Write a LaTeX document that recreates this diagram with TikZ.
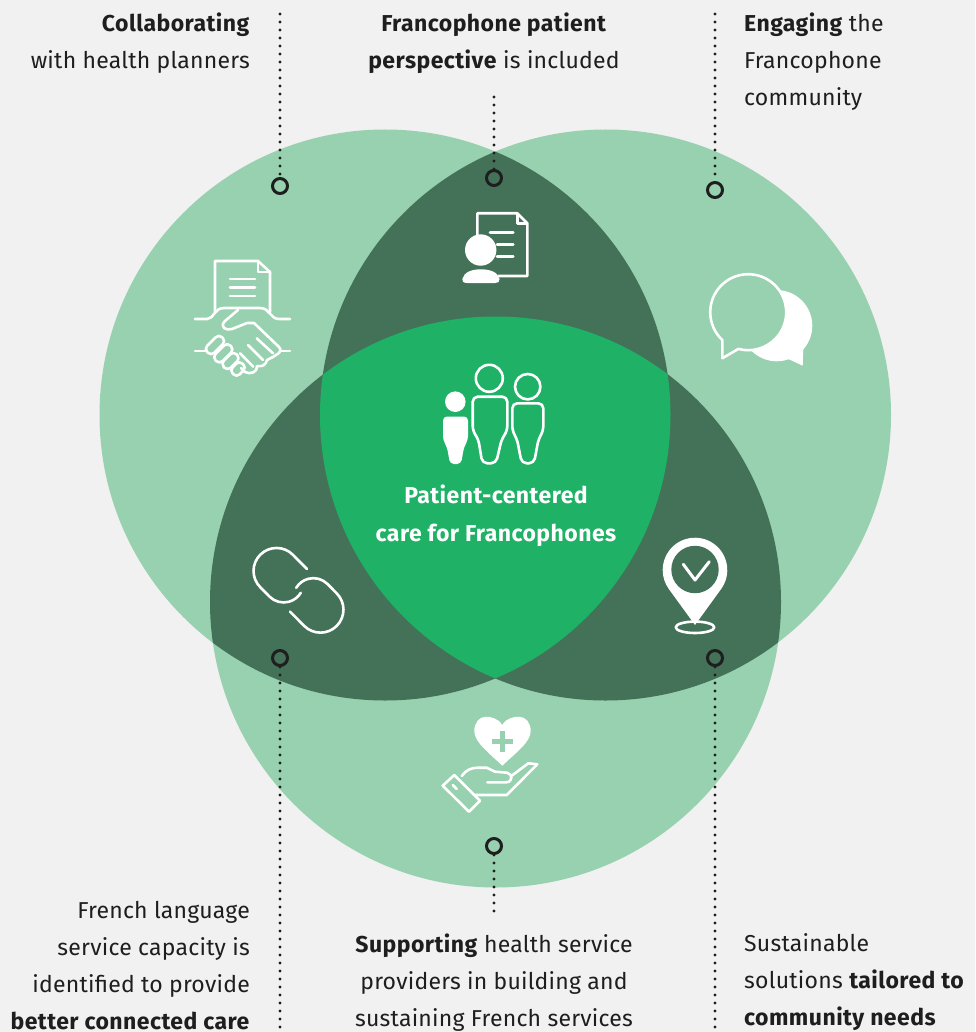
\documentclass[tikz,border=0pt]{standalone}
\usepackage{fontspec}
\setmainfont[LetterSpace=1,BoldFeatures={LetterSpace=2}]{Fira Sans}
\definecolor{pagebg}{HTML}{F1F1F1}
\definecolor{lightring}{HTML}{97D1AF}
\definecolor{darkring}{HTML}{447258}
\definecolor{midring}{HTML}{1FB166}
\definecolor{labelink}{HTML}{1E1E1E}
\tikzset{
  label text/.style={font=\fontsize{23}{37}\selectfont,text=labelink,inner sep=0pt},
  center text/.style={font=\fontsize{23}{38}\selectfont\bfseries,text=white,inner sep=0pt,align=center},
  ring/.style={circle,draw=labelink,line width=3pt,minimum size=15pt,inner sep=0pt},
  dots/.style={draw=labelink,line width=3.4pt,line cap=round,dash pattern=on 0pt off 8pt},
  icon/.style={draw=white,line width=2.6pt,line join=round,line cap=round},
}
\begin{document}
\begin{tikzpicture}[x=1pt,y=-1pt]
\useasboundingbox (0,0) rectangle (975,1032);
\fill[pagebg] (0,0) rectangle (975,1032);
\coordinate (cl) at (385,415);
\coordinate (cr) at (605.5,415);
\coordinate (cb) at (495.5,602);
\def\rr{285.5}

\fill[lightring] (cl) circle[radius=\rr];
\fill[lightring] (cr) circle[radius=\rr];
\fill[lightring] (cb) circle[radius=\rr];
\begin{scope}
  \clip (cl) circle[radius=\rr];
  \fill[darkring] (cr) circle[radius=\rr];
  \fill[darkring] (cb) circle[radius=\rr];
\end{scope}
\begin{scope}
  \clip (cr) circle[radius=\rr];
  \fill[darkring] (cb) circle[radius=\rr];
\end{scope}
\begin{scope}
  \clip (cl) circle[radius=\rr];
  \clip (cr) circle[radius=\rr];
  \fill[midring] (cb) circle[radius=\rr];
\end{scope}

% labels
\node[label text,anchor=north east,align=right] (collab) at (250,12.5) {\textbf{Collaborating}\\with health planners};
\node[label text,anchor=north,align=center] (patient) at (494,12.5) {\textbf{Francophone patient}\\\textbf{perspective} is included};
\node[label text,anchor=north west,align=left] (engage) at (744,12.5) {\textbf{Engaging} the\\Francophone\\community};
\node[label text,anchor=north east,align=right] (capacity) at (250,901.5) {French language\\service capacity is\\identified to provide\\\textbf{better connected care}};
\node[label text,anchor=north,align=center] (support) at (494,933.5) {\textbf{Supporting} health service\\providers in building and\\sustaining French services};
\node[label text,anchor=north west,align=left] (sustain) at (744,933.5) {Sustainable\\solutions \textbf{tailored to}\\\textbf{community needs}};
\node[center text] (care) at (496,516) {Patient-centered\\care for Francophones};

% rings and dotted leaders
\node[ring] (ringa) at (280,186) {};
\node[ring] (ringb) at (494,178) {};
\node[ring] (ringc) at (715,190) {};
\node[ring] (ringd) at (280,658) {};
\node[ring] (ringe) at (715,658) {};
\node[ring] (ringf) at (494,846) {};
\coordinate (enda) at (280,14);
\coordinate (endb) at (494,97);
\coordinate (endc) at (715,14);
\coordinate (endd) at (280,1032);
\coordinate (ende) at (715,1032);
\coordinate (endf) at (494,912);
\draw[dots] (enda) -- (ringa);
\draw[dots] (endb) -- (ringb);
\draw[dots] (endc) -- (ringc);
\draw[dots] (ringd) -- (endd);
\draw[dots] (ringe) -- (ende);
\draw[dots] (ringf) -- (endf);

% handshake
\draw[icon] (215,312) -- (215,261) -- (258,261) -- (270,272) -- (270,312);
\draw[icon] (258,261) -- (258,272) -- (270,272);
\draw[icon] (230,279) -- (255,279) (230,287.5) -- (255,287.5) (230,296) -- (255,296);
\draw[icon] (195,319) -- (207,319) .. controls (214,319) and (214,308) .. (224,308) -- (260,308) .. controls (270,308) and (270,319) .. (279,319) -- (290,319);
\draw[icon] (238,310) -- (225,321) .. controls (219,327) and (226,331) .. (232,329) -- (247,323) -- (254,323) -- (279,347) .. controls (282,350) and (280,353) .. (276,355) .. controls (272,358) and (270,358) .. (267,360) .. controls (266,365) and (262,367) .. (257,366) .. controls (258,372) and (250,375) .. (245,372) -- (241,368);
\draw[icon] (256.7,338.3) -- (273,353.3) (248,345) -- (263,360) (240,353.3) -- (253.3,366.7);
\draw[icon] (195,351) -- (206,351) (280,351) -- (290,351);
\foreach \px/\py/\pl in {215/345/10.5,223.3/353.3/10.5,230.5/361/9,238/369/7}
  \draw[icon,rounded corners=4.5pt,rotate around={45:(\px,\py)}] (\px-\pl,\py-5) rectangle (\px+\pl,\py+5);

% patient document
\draw[icon,line cap=butt] (477.3,235) -- (477.3,213.3) -- (517.3,213.3) -- (527.3,223.3) -- (527.3,276) -- (498,276);
\draw[icon,line cap=butt] (517.3,213.3) -- (517.3,223.3) -- (527.3,223.3);
\draw[icon] (490,232.7) -- (513.3,232.7) (497,244.3) -- (513.3,244.3) (497,256.7) -- (513.3,256.7);
\fill[white] (480.7,250) circle[radius=15.7];
\fill[white] (462.3,279) .. controls (464,272) and (472,269.3) .. (480.7,269.3) .. controls (490,269.3) and (498,272) .. (499.5,279) .. controls (500,282) and (498,283) .. (495,283) -- (467,283) .. controls (463,283) and (462,281) .. (462.3,279) -- cycle;

% speech bubbles
\fill[white] (776.7,325.7) circle[radius=35.6];
\fill[white] (803.3,348.3) -- (802.7,365.7) -- (788.3,359) -- cycle;
\draw[icon,fill=lightring,line cap=butt] (722.3,340) arc[start angle=133,end angle=465,radius=38] -- (722.3,358.3) -- cycle;

% people
\fill[white] (455.3,401.7) circle[radius=10.3];
\fill[white,rounded corners=4pt] (443,416.5) -- (468,416.5) -- (468,440) -- (464,447) -- (461,464) -- (450,464) -- (447,447) -- (443,440) -- cycle;
\draw[icon] (489.3,378.3) circle[radius=13.5];
\draw[icon,rounded corners=5pt] (472.7,396.7) -- (507.3,396.7) -- (507.3,431) -- (501.7,439) -- (496,463.3) -- (482.3,463.3) -- (478.3,439) -- (472.7,431) -- cycle;
\draw[icon] (527.7,386.7) circle[radius=12.7];
\draw[icon,rounded corners=5pt] (512.3,403.3) -- (543.3,403.3) -- (543.3,431) -- (538.5,439) -- (534,463.3) -- (521.7,463.3) -- (517,439) -- (512.3,431) -- cycle;

% chain links
\foreach \a in {0,180}
  \draw[icon,rotate around={\a:(298.5,590.3)}] (307,569) -- (292.8,554.7) arc[start angle=-45,end angle=-225,radius=23] -- (269.5,596.6) arc[start angle=135,end angle=31,radius=20];

% map pin
\fill[white] (695,625) -- (721.1,589) arc[start angle=36,end angle=-216,radius=32.3] -- cycle;
\fill[darkring] (695,569.5) circle[radius=23.7];
\draw[icon,line width=3pt] (683.3,564.3) -- (695,580) -- (709.3,561.7);
\draw[icon] (695,627.3) ellipse[x radius=19.3,y radius=5.7];

% heart in hand
\fill[white] (502.3,725) .. controls (498,718) and (490,716.7) .. (486,716.7) .. controls (479,716.7) and (474.3,723) .. (474.3,731) .. controls (474.3,742) and (488,752) .. (502.3,765.7) .. controls (516.6,752) and (530.7,742) .. (530.7,731) .. controls (530.7,723) and (526,716.7) .. (519,716.7) .. controls (514,716.7) and (506,718) .. (502.3,725) -- cycle;
\draw[lightring,line width=5pt] (491.6,741.7) -- (513,741.7) (502.3,731) -- (502.3,752.4);
\draw[icon] (454.3,775) -- (442.7,785.7) -- (469,811.7) -- (480,800.7) -- cycle;
\draw[icon] (452.7,785) -- (456.7,789);
\draw[icon] (461.7,776) .. controls (466,770) and (471,767.7) .. (478,767.7) -- (486.7,767.7) -- (495,771.7) -- (507,772.7) .. controls (513,774) and (513,782.3) .. (506,782.3) -- (487.3,782.3);
\draw[icon] (511.7,775.7) -- (528.3,763.3) -- (537.3,764.3) -- (506.7,795) -- (475,795);
\end{tikzpicture}
\end{document}
